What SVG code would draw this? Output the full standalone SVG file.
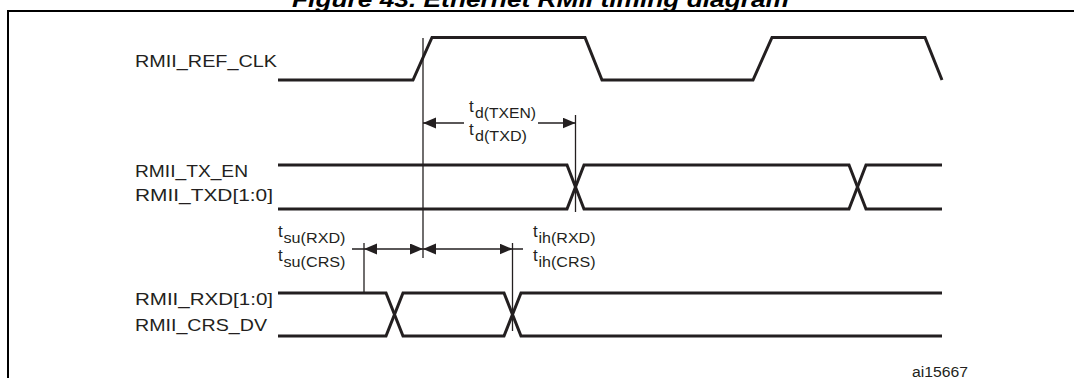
<svg xmlns="http://www.w3.org/2000/svg" width="1074" height="378" viewBox="0 0 1074 378">
<style>
text{font-family:"Liberation Sans",Arial,sans-serif;fill:#231f20}
.lbl{font-size:17px}
.t{font-size:17px}
.sub{font-size:14px}
.title{font-size:22px;font-weight:bold;font-style:italic;fill:#000}
.sig{fill:none;stroke:#231f20;stroke-width:3;stroke-linejoin:miter}
.dim{fill:none;stroke:#231f20;stroke-width:1.3}
.frame{fill:none;stroke:#000;stroke-width:2}
</style>
<defs>
<marker id="ah" markerUnits="userSpaceOnUse" markerWidth="14" markerHeight="12" refX="13" refY="5.5" orient="auto-start-reverse">
<path d="M0,0 L13,5.5 L0,11 z" fill="#231f20"/>
</marker>
</defs>
<rect width="1074" height="378" fill="#fff"/>
<text class="title" x="292" y="6.5" textLength="497" lengthAdjust="spacingAndGlyphs">Figure 43. Ethernet RMII timing diagram</text>
<path class="frame" d="M8,378 V11 H1074"/>

<g id="ref_clk">
<text class="lbl" x="135" y="67" textLength="142" lengthAdjust="spacingAndGlyphs">RMII_REF_CLK</text>
<path class="sig" d="M278,80 H413 L432,37.5 H585 L602,80 H753 L772,37.5 H925 L942,80"/>
</g>

<g id="tx">
<text class="lbl" x="135" y="177" textLength="113" lengthAdjust="spacingAndGlyphs">RMII_TX_EN</text>
<text class="lbl" x="135" y="201" textLength="138" lengthAdjust="spacingAndGlyphs">RMII_TXD[1:0]</text>
<path class="sig" d="M278,165 H567 L584,209 H849 L866,165 H942"/>
<path class="sig" d="M278,209 H567 L584,165 H849 L866,209 H942"/>
</g>

<g id="rx">
<text class="lbl" x="135" y="305" textLength="138" lengthAdjust="spacingAndGlyphs">RMII_RXD[1:0]</text>
<text class="lbl" x="135" y="331" textLength="132" lengthAdjust="spacingAndGlyphs">RMII_CRS_DV</text>
<path class="sig" d="M278,293 H386 L403,336 H504 L521,293 H942"/>
<path class="sig" d="M278,336 H386 L403,293 H504 L521,336 H942"/>
</g>

<g id="td_label">
<text class="t" x="469" y="111.5">t</text>
<text class="sub" x="475" y="117.5" textLength="61" lengthAdjust="spacingAndGlyphs">d(TXEN)</text>
<text class="t" x="469" y="134.5">t</text>
<text class="sub" x="475" y="140.5" textLength="52" lengthAdjust="spacingAndGlyphs">d(TXD)</text>
</g>

<g id="tsu_label">
<text class="t" x="278" y="237">t</text>
<text class="sub" x="283.5" y="242.5" textLength="62" lengthAdjust="spacingAndGlyphs">su(RXD)</text>
<text class="t" x="278" y="261">t</text>
<text class="sub" x="283.5" y="266.5" textLength="62" lengthAdjust="spacingAndGlyphs">su(CRS)</text>
</g>

<g id="tih_label">
<text class="t" x="533" y="237">t</text>
<text class="sub" x="538.5" y="242.5" textLength="57" lengthAdjust="spacingAndGlyphs">ih(RXD)</text>
<text class="t" x="533" y="261">t</text>
<text class="sub" x="538.5" y="266.5" textLength="57" lengthAdjust="spacingAndGlyphs">ih(CRS)</text>
</g>

<g id="connectors">
<path class="dim" d="M423,38 V258"/>
<path class="dim" d="M575.5,115 V212"/>
<path class="dim" d="M364,243 V293"/>
<path class="dim" d="M512.5,243 V331"/>
<path class="dim" d="M464,123 H423" marker-end="url(#ah)"/>
<path class="dim" d="M538,123 H575.5" marker-end="url(#ah)"/>
<path class="dim" d="M364,249 H423" marker-start="url(#ah)" marker-end="url(#ah)"/>
<path class="dim" d="M423,249 H512.5" marker-start="url(#ah)" marker-end="url(#ah)"/>
<path class="dim" d="M352,249 H364 M512.5,249 H523"/>
</g>

<text x="912" y="377" font-size="14" textLength="56" lengthAdjust="spacingAndGlyphs">ai15667</text>
</svg>
